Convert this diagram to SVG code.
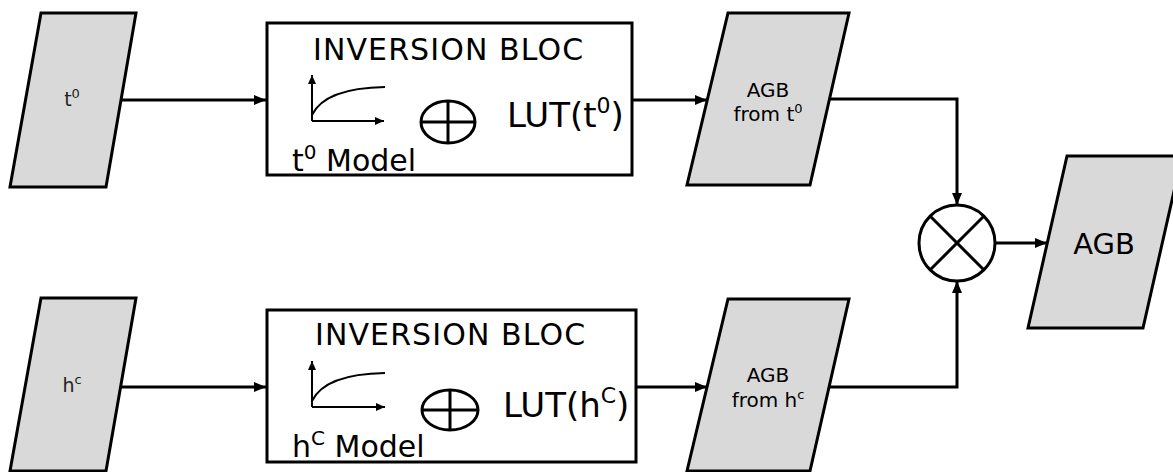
<svg xmlns="http://www.w3.org/2000/svg" width="1173" height="472" viewBox="0 0 1173 472">
<style>
.para{fill:#d9d9d9;stroke:#000;stroke-width:3;stroke-linejoin:miter}
.box{fill:#fff;stroke:#000;stroke-width:3}
.conn{fill:none;stroke:#000;stroke-width:3}
.thin{fill:none;stroke:#000;stroke-width:2}
.plus{fill:none;stroke:#000;stroke-width:3}
text{font-family:"DejaVu Sans",Verdana,sans-serif;fill:#000}
.title{font-size:30px;letter-spacing:1.1px}
.lut{font-size:34px}
.model{font-size:30px}
.small{font-size:19px;fill:#222}
.mid{font-size:20px}
.big{font-size:29px}
</style>
<defs>
<marker id="ah" markerWidth="12" markerHeight="10" refX="12" refY="5" orient="auto" markerUnits="userSpaceOnUse">
<path d="M0,0 L12,5 L0,10 Z" fill="#000"/>
</marker>
<marker id="sah" markerWidth="9" markerHeight="8" refX="9" refY="4" orient="auto" markerUnits="userSpaceOnUse">
<path d="M0,0 L9,4 L0,8 Z" fill="#000"/>
</marker>
</defs>

<g id="connectors">
<line class="conn" x1="121" y1="100" x2="266" y2="100" marker-end="url(#ah)"/>
<line class="conn" x1="121" y1="387" x2="266" y2="387" marker-end="url(#ah)"/>
<line class="conn" x1="632" y1="100" x2="707" y2="100" marker-end="url(#ah)"/>
<line class="conn" x1="636" y1="387" x2="707" y2="387" marker-end="url(#ah)"/>
<polyline class="conn" points="829,99 957,99 957,205" marker-end="url(#ah)"/>
<polyline class="conn" points="828,387 957,387 957,281" marker-end="url(#ah)"/>
<line class="conn" x1="995" y1="243" x2="1047" y2="243" marker-end="url(#ah)"/>
</g>

<g id="input-t0">
<polygon class="para" points="41,13 136,13 106,187 10,187"/>
<text class="small" x="72" y="106" text-anchor="middle">t<tspan font-size="13" dy="-8">0</tspan></text>
</g>

<g id="input-hc">
<polygon class="para" points="41,298 136,298 106,471 10,471"/>
<text class="small" x="72" y="392" text-anchor="middle">h<tspan font-size="13" dy="-8">c</tspan></text>
</g>

<g id="bloc-t0">
<rect class="box" x="267" y="23" width="365" height="152"/>
<text class="title" x="313" y="60">INVERSION BLOC</text>
<line class="thin" x1="312" y1="121" x2="312" y2="75" marker-end="url(#sah)"/>
<line class="thin" x1="312" y1="121" x2="384" y2="121" marker-end="url(#sah)"/>
<path class="thin" d="M312,115 Q325,88 385,87"/>
<g class="plus">
<ellipse cx="448" cy="122" rx="27" ry="21"/>
<line x1="421" y1="122" x2="475" y2="122"/>
<line x1="448" y1="101" x2="448" y2="143"/>
</g>
<text class="lut" x="507" y="127">LUT(t<tspan font-size="22" dy="-14">0</tspan><tspan dy="14">)</tspan></text>
<text class="model" x="292" y="171">t<tspan font-size="20" dy="-12">0</tspan><tspan dy="12"> Model</tspan></text>
</g>

<g id="bloc-hc">
<rect class="box" x="267" y="310" width="369" height="152"/>
<text class="title" x="315" y="345">INVERSION BLOC</text>
<line class="thin" x1="312" y1="407" x2="312" y2="361" marker-end="url(#sah)"/>
<line class="thin" x1="312" y1="407" x2="385" y2="407" marker-end="url(#sah)"/>
<path class="thin" d="M312,401 Q325,374 385,373"/>
<g class="plus">
<ellipse cx="450" cy="410" rx="28" ry="20"/>
<line x1="422" y1="410" x2="478" y2="410"/>
<line x1="450" y1="390" x2="450" y2="430"/>
</g>
<text class="lut" x="503" y="417">LUT(h<tspan font-size="22" dy="-14">C</tspan><tspan dy="14">)</tspan></text>
<text class="model" x="292" y="457">h<tspan font-size="20" dy="-12">C</tspan><tspan dy="12"> Model</tspan></text>
</g>

<g id="agb-t0">
<polygon class="para" points="728,13 849,13 810,185 687,185"/>
<text class="mid" x="768" y="97" text-anchor="middle">AGB</text>
<text class="mid" x="768" y="121" text-anchor="middle">from t<tspan font-size="13" dy="-8">0</tspan></text>
</g>

<g id="agb-hc">
<polygon class="para" points="728,299 849,299 810,471 687,471"/>
<text class="mid" x="768" y="382" text-anchor="middle">AGB</text>
<text class="mid" x="768" y="407" text-anchor="middle">from h<tspan font-size="13" dy="-8">c</tspan></text>
</g>

<g id="multiply">
<circle cx="957" cy="243" r="38" fill="#fff" stroke="#000" stroke-width="3"/>
<line class="conn" x1="930" y1="216" x2="984" y2="270"/>
<line class="conn" x1="984" y1="216" x2="930" y2="270"/>
</g>

<g id="agb-out">
<polygon class="para" points="1067,156 1182,156 1143,328 1028,328"/>
<text class="big" x="1104" y="254" text-anchor="middle">AGB</text>
</g>
</svg>
